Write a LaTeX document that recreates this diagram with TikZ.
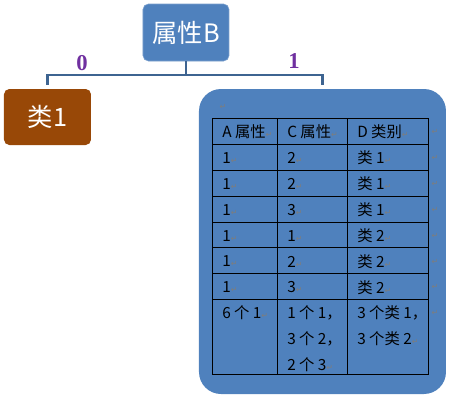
\documentclass[tikz,border=0pt]{standalone}
\usepackage{fontspec}
\setmainfont{Noto Sans CJK SC}
\newfontfamily\symfont{DejaVu Sans}
\newfontfamily\labfont{Liberation Serif}
\usetikzlibrary{positioning}
\definecolor{boxblue}{RGB}{79,129,189}
\definecolor{leafbrown}{RGB}{152,72,7}
\definecolor{branchblue}{RGB}{62,100,145}
\definecolor{edgepurple}{RGB}{112,48,160}
\definecolor{markgray}{RGB}{125,125,125}
\newcommand{\rmark}{{\symfont\fontsize{6}{6}\selectfont\textcolor{markgray}{↵}}}

\begin{document}
\begin{tikzpicture}[x=0.75pt,y=-0.75pt,
  attr/.style={fill=boxblue,draw=boxblue!75!white,rounded corners=4pt,minimum width=64.5pt,
               minimum height=42.75pt,text=white,font=\fontsize{19}{19}\selectfont,inner sep=0pt},
  leaf/.style={fill=leafbrown,rounded corners=4pt,minimum width=65.25pt,minimum height=42pt,
               text=white,font=\fontsize{19}{19}\selectfont,inner sep=0pt},
  subset/.style={fill=boxblue,rounded corners=16.5pt,minimum width=185.25pt,
                 minimum height=228.75pt,inner sep=0pt},
  branch/.style={draw=branchblue,line width=2pt},
  edgelab/.style={text=edgepurple,font=\labfont\bfseries\fontsize{17}{17}\selectfont,inner sep=0pt},
  grid/.style={draw=black,line width=0.75pt},
  cell/.style={anchor=west,inner sep=0pt,font=\fontsize{11.5}{19}\selectfont},
  lastcell/.style={anchor=north west,align=left,inner sep=0pt,font=\fontsize{11.5}{19}\selectfont},
  mk/.style={inner sep=0pt}]
\useasboundingbox (0,0) rectangle (455,411);

\node[attr] (attrB) at (186,32.5) {属性B};
\node[leaf] (cls1) at (47.5,117) {类1};
\node[subset] (rest) at (322.5,241.5) {};

% branches
\coordinate (bar) at (186,75);
\draw[branch] (attrB.south) -- (attrB.south |- bar);
\draw[branch] ([yshift=3pt]cls1.north) |- (bar) -| ([yshift=3pt]rest.north);
\node[edgelab] (lab0) at (82,63) {0};
\node[edgelab] (lab1) at (294,61) {1};

% table
\node[mk] (m0) at (223,107) {\rmark};
\draw[grid] (213,118) rectangle (429,374);
\foreach \y in {144,170,196,222,247,273,299} \draw[grid] (213,\y) -- (429,\y);
\foreach \x in {278,348} \draw[grid] (\x,118) -- (\x,374);

\node[cell] (h1) at (222,132) {A 属性\rmark};
\node[cell] (h2) at (287,132) {C 属性\rmark};
\node[cell] (h3) at (357,132) {D 类别\rmark};
\node[mk] (r0) at (435,132) {\rmark};
\foreach \a/\c/\d [count=\i, evaluate=\i as \ry using 132+25.9*\i] in
    {1/2/类 1, 1/2/类 1, 1/3/类 1, 1/1/类 2, 1/2/类 2, 1/3/类 2} {
  \node[cell] (a\i) at (222,\ry) {\a\rmark};
  \node[cell] (c\i) at (287,\ry) {\c\rmark};
  \node[cell] (d\i) at (357,\ry) {\d\rmark};
  \node[mk] (r\i) at (435,\ry) {\rmark};
}
\node[lastcell] (a7) at (222,305) {6 个 1\rmark};
\node[lastcell] (c7) at (287,305) {1 个 1，\\[0.8pt]3 个 2，\\[0.8pt]2 个 3\rmark};
\node[lastcell] (d7) at (357,305) {3 个类 1，\\[0.8pt]3 个类 2\rmark};
\node[mk] (r7) at (435,313) {\rmark};
\end{tikzpicture}
\end{document}
